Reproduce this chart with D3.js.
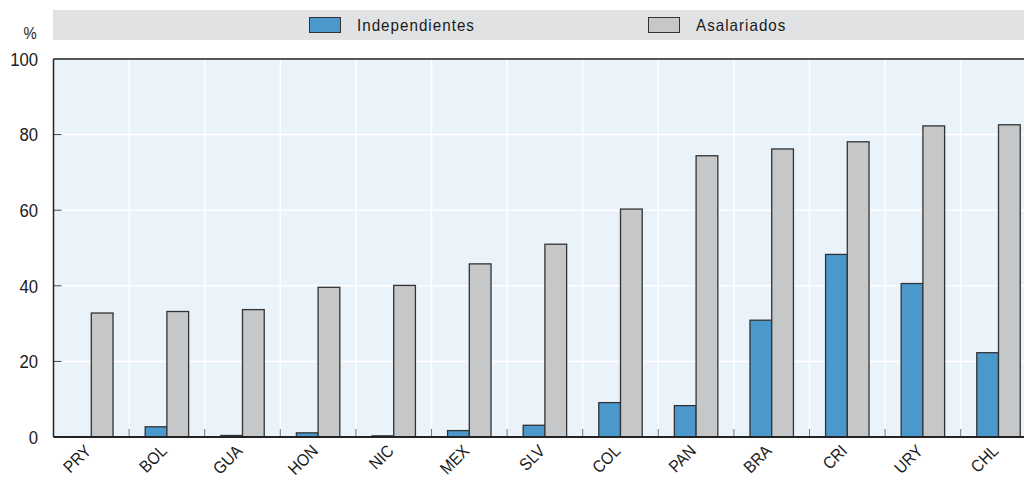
<!DOCTYPE html>
<html><head><meta charset="utf-8">
<script src="https://cdn.jsdelivr.net/npm/d3@7"></script>
<style>
body{margin:0;background:#fff;}
svg text{font-family:"Liberation Sans","Arial",sans-serif;fill:#1a1a1a;}
</style></head>
<body><svg id="c" width="1024" height="481"></svg>
<script>
const categories = ["PRY","BOL","GUA","HON","NIC","MEX","SLV","COL","PAN","BRA","CRI","URY","CHL"];
const independientes = [0.1,2.7,0.4,1.1,0.3,1.7,3.1,9.1,8.3,30.9,48.3,40.6,22.3];
const asalariados = [32.8,33.2,33.7,39.6,40.1,45.8,51.0,60.3,74.4,76.2,78.1,82.3,82.6];
const seriesNames = ["Independientes","Asalariados"];
const yTicks = [0,20,40,60,80,100];

const svg = d3.select("#c");
const pLeft = 53.5, pTop = 59, pBottom = 437, pRight = 53.5 + 13*75.6;
const x = d3.scaleBand().domain(categories).range([pLeft, pRight]).padding(0);
const xs = d3.scaleBand().domain(seriesNames).range([0, x.bandwidth()]).paddingInner(0).paddingOuter(0.74);
const y = d3.scaleLinear().domain([0,100]).range([pBottom, pTop]);
const colors = {"Independientes":"#4a98cc","Asalariados":"#c6c7c9"};

// legend band
svg.append("rect").attr("x",53).attr("y",10).attr("width",1024-53).attr("height",30).attr("fill","#e1e2e4");
const legendX = [309, 648];
seriesNames.forEach((s,i)=>{
  svg.append("rect").attr("x",legendX[i]+0.5).attr("y",17.5).attr("width",31).attr("height",15)
    .attr("fill",colors[s]).attr("stroke","#333").attr("stroke-width",1);
  svg.append("text").attr("transform",`translate(${legendX[i]+48},31) scale(0.92,1)`)
    .attr("font-size",16.5).attr("letter-spacing",1.1).text(s);
});

// plot background
svg.append("rect").attr("x",pLeft).attr("y",pTop).attr("width",pRight-pLeft).attr("height",pBottom-pTop).attr("fill","#ebf3fa");

// horizontal gridlines
svg.append("g").selectAll("line").data(yTicks.filter(t=>t>0&&t<100)).join("line")
  .attr("x1",pLeft).attr("x2",pRight).attr("y1",d=>y(d)).attr("y2",d=>y(d))
  .attr("stroke","#fff").attr("stroke-width",1.5);
// vertical gridlines at band boundaries
const bounds = categories.slice(1).map(c=>x(c));
svg.append("g").selectAll("line").data(bounds).join("line")
  .attr("x1",d=>d).attr("x2",d=>d).attr("y1",pTop).attr("y2",pBottom-8)
  .attr("stroke","#fff").attr("stroke-width",1.5);
svg.append("g").selectAll("line").data(bounds).join("line")
  .attr("x1",d=>d).attr("x2",d=>d).attr("y1",pBottom-8).attr("y2",pBottom)
  .attr("stroke","#777").attr("stroke-width",1);

// y ticks inside
svg.append("g").selectAll("line").data(yTicks.filter(t=>t>0&&t<100)).join("line")
  .attr("x1",pLeft).attr("x2",pLeft+8).attr("y1",d=>y(d)).attr("y2",d=>y(d))
  .attr("stroke","#444").attr("stroke-width",1);

// bars
const data = categories.map((c,i)=>({c, vals:[independientes[i], asalariados[i]]}));
const g = svg.append("g");
data.forEach(d=>{
  seriesNames.forEach((s,j)=>{
    const v = d.vals[j];
    g.append("rect")
      .attr("x", x(d.c)+xs(s))
      .attr("y", y(v))
      .attr("width", xs.bandwidth())
      .attr("height", Math.max(0, y(0)-y(v)))
      .attr("fill", colors[s]).attr("stroke","#333").attr("stroke-width",1.3);
  });
});

// frame
svg.append("line").attr("x1",pLeft).attr("x2",pRight).attr("y1",pTop).attr("y2",pTop).attr("stroke","#222").attr("stroke-width",1.5);
svg.append("line").attr("x1",pLeft).attr("x2",pLeft).attr("y1",pTop).attr("y2",pBottom).attr("stroke","#222").attr("stroke-width",1.5);
svg.append("line").attr("x1",pLeft).attr("x2",pRight).attr("y1",pBottom).attr("y2",pBottom).attr("stroke","#222").attr("stroke-width",2);

// y tick labels
svg.append("g").selectAll("text").data(yTicks).join("text")
  .attr("transform",d=>`translate(38,${y(d)+6.8}) scale(0.88,1)`)
  .attr("text-anchor","end").attr("font-size",19).text(d=>d);
svg.append("text").attr("transform","translate(30,39) scale(0.9,1)").attr("text-anchor","middle").attr("font-size",16.5).text("%");

// x labels
svg.append("g").selectAll("text").data(categories).join("text")
  .attr("transform",d=>`translate(${x(d)+x.bandwidth()/2+1},${452}) rotate(-45) scale(0.9,1)`)
  .attr("text-anchor","end").attr("font-size",17).text(d=>d);
</script></body></html>
